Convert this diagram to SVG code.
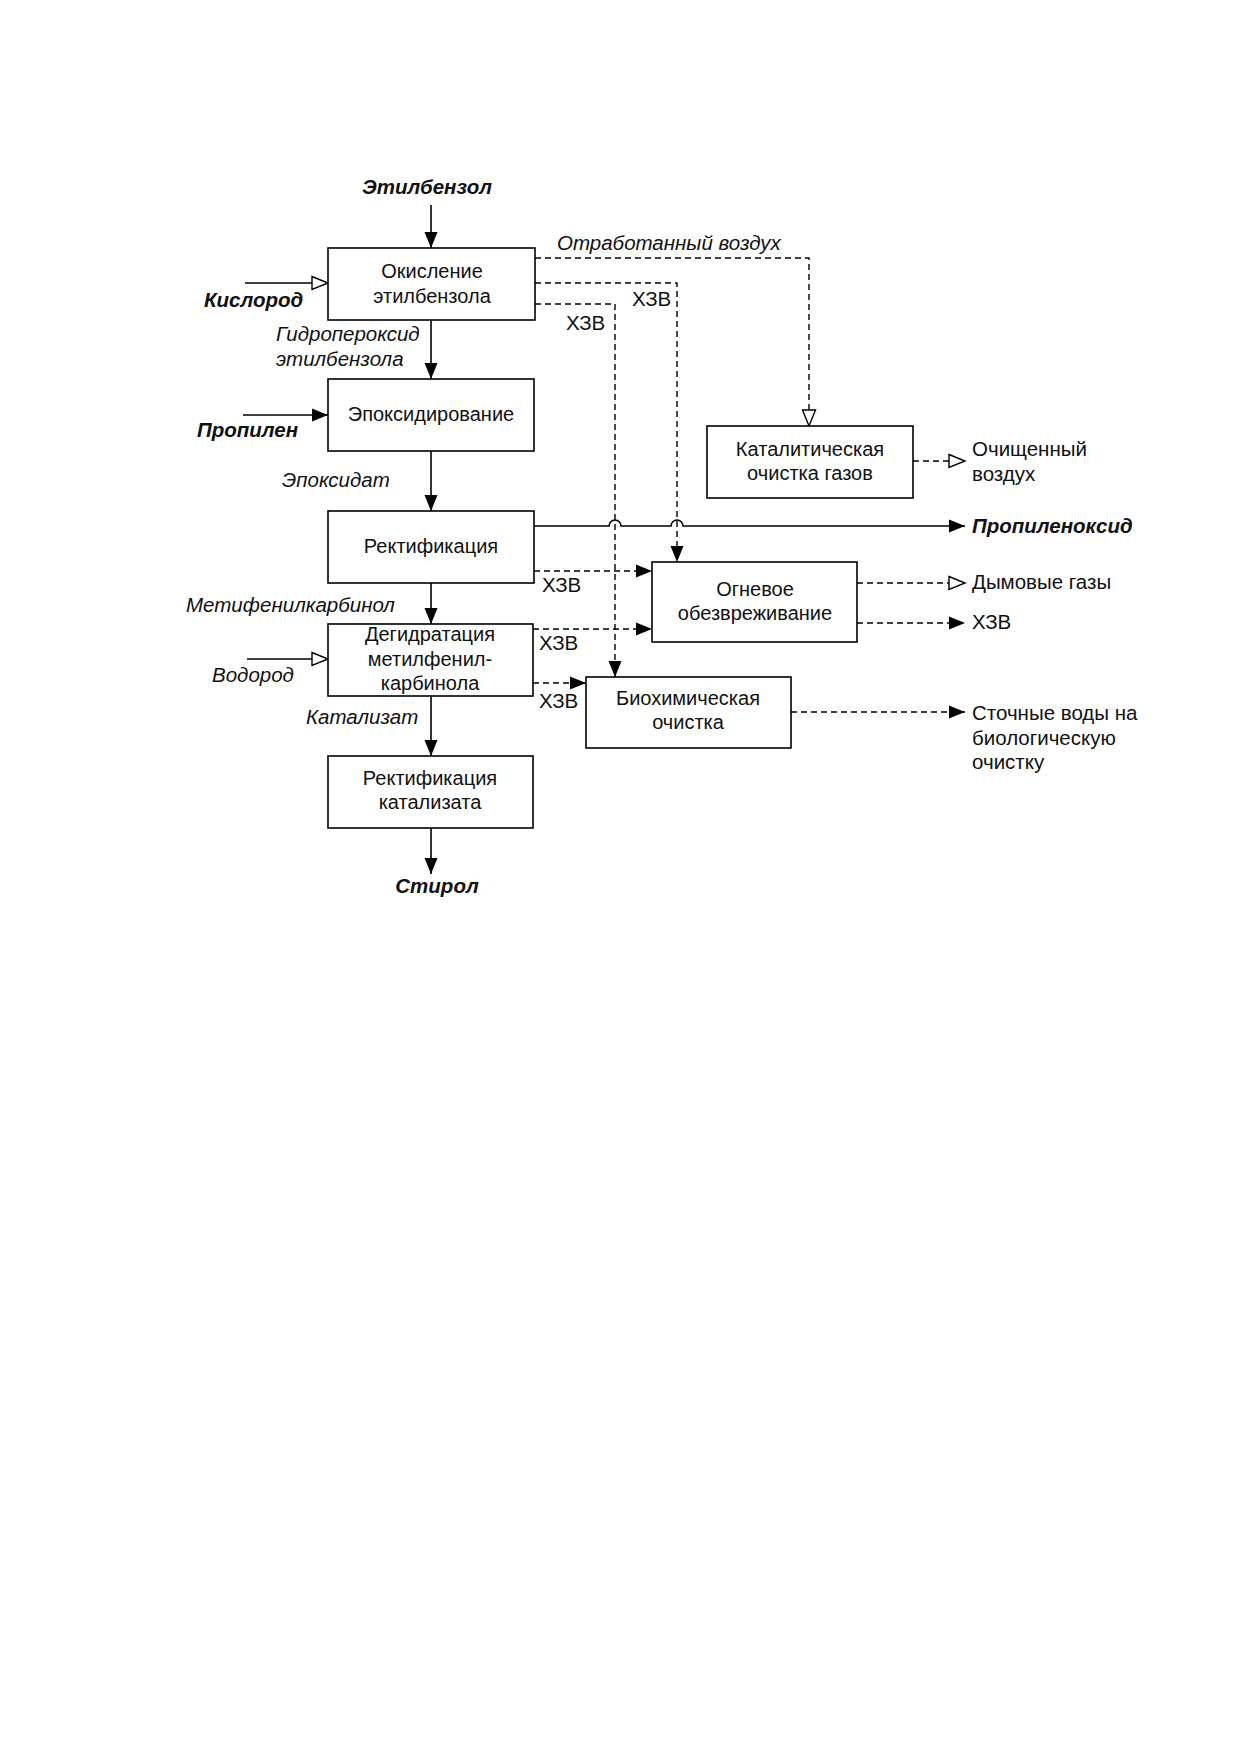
<svg xmlns="http://www.w3.org/2000/svg" width="1241" height="1755" viewBox="0 0 1241 1755">
<style>
.box{fill:#fff;stroke:#000;stroke-width:1.6}
.t{font-family:"Liberation Sans",Arial,sans-serif;font-size:20px;fill:#111;text-anchor:middle}
.l{font-family:"Liberation Sans",Arial,sans-serif;font-size:20.5px;fill:#111}
.i{font-style:italic}
.b{font-weight:bold;font-style:italic}
.s{fill:none;stroke:#000;stroke-width:1.6}
.d{fill:none;stroke:#000;stroke-width:1.4;stroke-dasharray:6,4}
</style>
<defs>
<marker id="af" markerUnits="userSpaceOnUse" markerWidth="18" markerHeight="14" refX="16" refY="7" orient="auto">
<path d="M0,0.5 L16,7 L0,13.5 Z" fill="#000" stroke="none"/>
</marker>
<marker id="ao" markerUnits="userSpaceOnUse" markerWidth="19" markerHeight="16" refX="17" refY="8" orient="auto">
<path d="M1,1.5 L17,8 L1,14.5 Z" fill="#fff" stroke="#000" stroke-width="1.4" stroke-dasharray="none"/>
</marker>
</defs>
<rect width="1241" height="1755" fill="#fff"/>

<g id="connectors">
<line class="s" x1="431" y1="205" x2="431" y2="248" marker-end="url(#af)"/>
<line class="s" x1="431" y1="320" x2="431" y2="379" marker-end="url(#af)"/>
<line class="s" x1="431" y1="451" x2="431" y2="511" marker-end="url(#af)"/>
<line class="s" x1="431" y1="583" x2="431" y2="624" marker-end="url(#af)"/>
<line class="s" x1="431" y1="696" x2="431" y2="756" marker-end="url(#af)"/>
<line class="s" x1="431" y1="828" x2="431" y2="874" marker-end="url(#af)"/>
<line class="s" x1="245" y1="283" x2="328" y2="283" marker-end="url(#ao)"/>
<line class="s" x1="243" y1="415" x2="328" y2="415" marker-end="url(#af)"/>
<line class="s" x1="247" y1="659" x2="328" y2="659" marker-end="url(#ao)"/>
<path class="s" d="M534,526 H609 A6,6 0 0 1 621,526 H671 A6,6 0 0 1 683,526 H965" marker-end="url(#af)"/>
<path class="d" d="M535,258 H809 V426" marker-end="url(#ao)"/>
<path class="d" d="M535,283 H677 V562" marker-end="url(#af)"/>
<path class="d" d="M535,304 H615 V677" marker-end="url(#af)"/>
<line class="d" x1="534" y1="571" x2="652" y2="571" marker-end="url(#af)"/>
<line class="d" x1="533" y1="629" x2="652" y2="629" marker-end="url(#af)"/>
<line class="d" x1="533" y1="683" x2="586" y2="683" marker-end="url(#af)"/>
<line class="d" x1="913" y1="461" x2="965" y2="461" marker-end="url(#ao)"/>
<line class="d" x1="857" y1="583" x2="965" y2="583" marker-end="url(#ao)"/>
<line class="d" x1="857" y1="623" x2="965" y2="623" marker-end="url(#af)"/>
<line class="d" x1="791" y1="712" x2="965" y2="712" marker-end="url(#af)"/>
</g>

<g id="labels">
<text class="l b" x="427" y="194" text-anchor="middle">Этилбензол</text>
<text class="l b" x="204" y="307">Кислород</text>
<text class="l i" x="276" y="341">Гидропероксид</text>
<text class="l i" x="276" y="366">этилбензола</text>
<text class="l b" x="197" y="437">Пропилен</text>
<text class="l i" x="282" y="487">Эпоксидат</text>
<text class="l i" x="186" y="612">Метифенилкарбинол</text>
<text class="l i" x="212" y="682">Водород</text>
<text class="l i" x="306" y="724">Катализат</text>
<text class="l b" x="437" y="893" text-anchor="middle">Стирол</text>
<text class="l i" x="557" y="250">Отработанный воздух</text>
<text class="l" x="632" y="306">ХЗВ</text>
<text class="l" x="566" y="330">ХЗВ</text>
<text class="l" x="542" y="592">ХЗВ</text>
<text class="l" x="539" y="650">ХЗВ</text>
<text class="l" x="539" y="708">ХЗВ</text>
<text class="l" x="972" y="456">Очищенный</text>
<text class="l" x="972" y="481">воздух</text>
<text class="l b" x="972" y="533">Пропиленоксид</text>
<text class="l" x="972" y="589">Дымовые газы</text>
<text class="l" x="972" y="629">ХЗВ</text>
<text class="l" x="972" y="720">Сточные воды на</text>
<text class="l" x="972" y="745">биологическую</text>
<text class="l" x="972" y="769">очистку</text>
</g>

<g id="n1"><rect class="box" x="328" y="248" width="207" height="72"/>
<text class="t" x="432" y="278">Окисление</text><text class="t" x="432" y="303">этилбензола</text></g>
<g id="n2"><rect class="box" x="328" y="379" width="206" height="72"/>
<text class="t" x="431" y="421">Эпоксидирование</text></g>
<g id="n3"><rect class="box" x="328" y="511" width="206" height="72"/>
<text class="t" x="431" y="553">Ректификация</text></g>
<g id="n4"><rect class="box" x="328" y="624" width="205" height="72"/>
<text class="t" x="430" y="641">Дегидратация</text><text class="t" x="430" y="666">метилфенил-</text><text class="t" x="430" y="690">карбинола</text></g>
<g id="n5"><rect class="box" x="328" y="756" width="205" height="72"/>
<text class="t" x="430" y="785">Ректификация</text><text class="t" x="430" y="809">катализата</text></g>
<g id="n6"><rect class="box" x="707" y="426" width="206" height="72"/>
<text class="t" x="810" y="456">Каталитическая</text><text class="t" x="810" y="480">очистка газов</text></g>
<g id="n7"><rect class="box" x="652" y="562" width="205" height="80"/>
<text class="t" x="755" y="596">Огневое</text><text class="t" x="755" y="620">обезвреживание</text></g>
<g id="n8"><rect class="box" x="586" y="677" width="205" height="71"/>
<text class="t" x="688" y="705">Биохимическая</text><text class="t" x="688" y="729">очистка</text></g>
</svg>
